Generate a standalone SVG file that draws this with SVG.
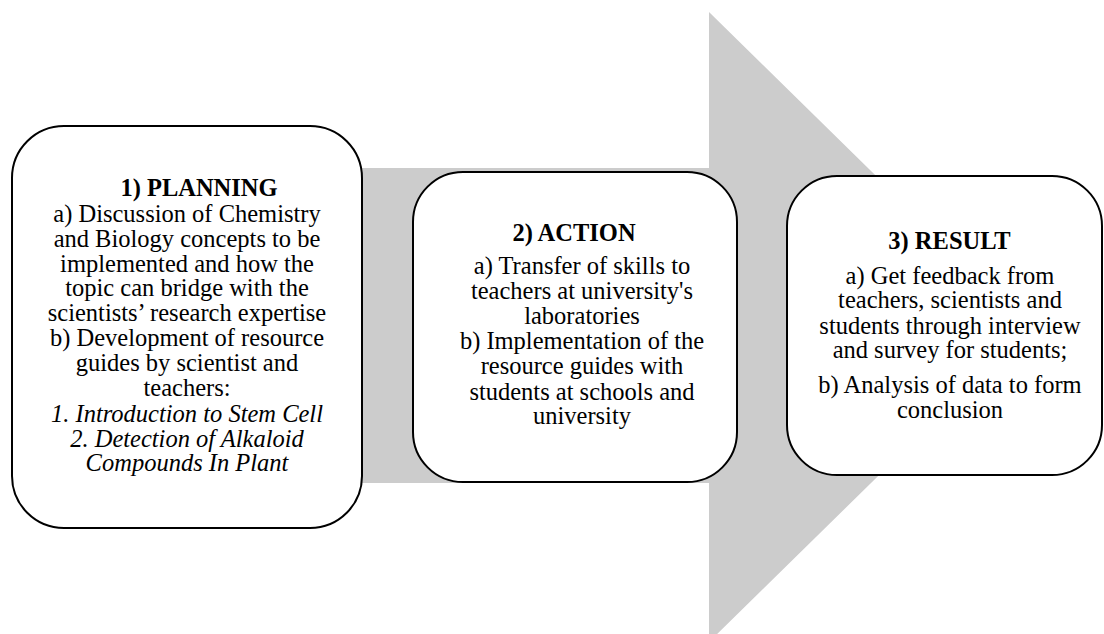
<svg xmlns="http://www.w3.org/2000/svg" width="1104" height="634" viewBox="0 0 1104 634">
<style>
.box{fill:#ffffff;stroke:#000000;stroke-width:2}
.arrow{fill:#cccccc;stroke:none}
text{font-family:"Liberation Serif","Times New Roman",serif;font-size:24.5px;fill:#000000;text-anchor:middle}
.h{font-weight:bold}
.i{font-style:italic}
</style>
<rect width="1104" height="634" fill="#ffffff"/>
<g id="connectors">
<polygon class="arrow" points="330,168 709,168 709,12 1030,327 709,642 709,483 330,483"/>
</g>
<g id="planning">
<rect class="box" x="12" y="126" width="350" height="402" rx="52" ry="52"/>
<text class="h" x="199" y="196">1) PLANNING</text>
<text x="187" y="221.5">a) Discussion of Chemistry</text>
<text x="187" y="246.5">and Biology concepts to be</text>
<text x="187" y="271.5">implemented and how the</text>
<text x="187" y="296">topic can bridge with the</text>
<text x="187" y="321">scientists’ research expertise</text>
<text x="187" y="346">b) Development of resource</text>
<text x="187" y="371">guides by scientist and</text>
<text x="187" y="396">teachers:</text>
<text class="i" x="187" y="421.5">1. Introduction to Stem Cell</text>
<text class="i" x="187" y="446.5">2. Detection of Alkaloid</text>
<text class="i" x="187" y="471">Compounds In Plant</text>
</g>
<g id="action">
<rect class="box" x="413" y="172" width="324" height="310" rx="50" ry="50"/>
<text class="h" x="574" y="241">2) ACTION</text>
<text x="582" y="273.5">a) Transfer of skills to</text>
<text x="582" y="298.5">teachers at university's</text>
<text x="582" y="324">laboratories</text>
<text x="582" y="349">b) Implementation of the</text>
<text x="582" y="374">resource guides with</text>
<text x="582" y="399.5">students at schools and</text>
<text x="582" y="424">university</text>
</g>
<g id="result">
<rect class="box" x="787" y="176" width="315" height="299" rx="50" ry="50"/>
<text class="h" x="949.5" y="249">3) RESULT</text>
<text x="950" y="283.5">a) Get feedback from</text>
<text x="950" y="308">teachers, scientists and</text>
<text x="950" y="333.5">students through interview</text>
<text x="950" y="358">and survey for students;</text>
<text x="950" y="393">b) Analysis of data to form</text>
<text x="950" y="417.5">conclusion</text>
</g>
</svg>
